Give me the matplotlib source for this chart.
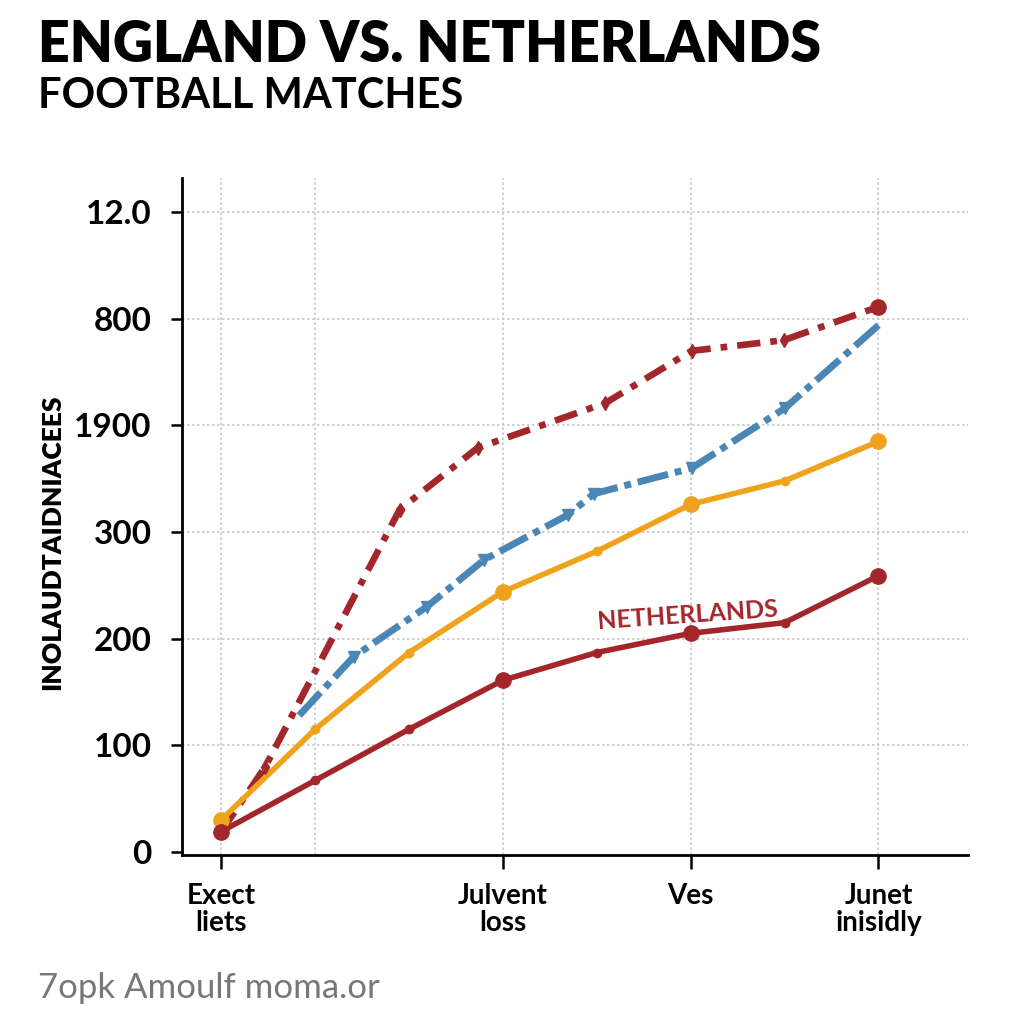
import matplotlib.pyplot as plt

plt.rcParams["font.family"] = ["Lato", "DejaVu Sans"]

# x positions of the points along the match axis
x_pos = [0, 1, 2, 3, 4, 5, 6, 7]
x_ticks = [0, 3, 5, 7]
x_labels = ["Exect\nliets", "Julvent\nloss", "Ves", "Junet\ninisidly"]
x_grid = [0, 1, 3, 5, 7]

y_ticks = [0, 1, 2, 3, 4, 5, 6]
y_labels = ["0", "100", "200", "300", "1900", "800", "12.0"]

netherlands = [0.19, 0.67, 1.15, 1.61, 1.87, 2.05, 2.15, 2.59]
orange_vals = [0.30, 1.15, 1.87, 2.44, 2.82, 3.26, 3.48, 3.85]

blue_x = [0.83, 1.41, 2.19, 2.80, 3.69, 3.97, 5.01, 6.0, 7.0]
blue_vals = [1.28, 1.83, 2.30, 2.74, 3.16, 3.36, 3.60, 4.16, 4.94]

red_x = [0, 0.47, 1.90, 2.73, 4.09, 5.01, 5.99, 6.99]
red_vals = [0.19, 0.80, 3.21, 3.79, 4.21, 4.70, 4.80, 5.11]

RED = "#a3262b"
ORANGE = "#efa31d"
BLUE = "#4b87b5"

fig = plt.figure(figsize=(10.24, 10.24), dpi=100)
ax = fig.add_axes([0.178, 0.165, 0.767, 0.661])

# grid
for gx in x_grid:
    ax.axvline(gx, color="#c8c8c8", lw=1.2, ls=(0, (1.5, 1.5)), zorder=0)
for gy in y_ticks[1:]:
    ax.axhline(gy, color="#c8c8c8", lw=1.2, ls=(0, (1.5, 1.5)), zorder=0)

# red dashed (top)
ax.plot(red_x, red_vals, color=RED, lw=4.8, dashes=(3.5, 1.5, 1, 1.5), zorder=3)
ax.plot(red_x[1:-1], red_vals[1:-1], "d", color=RED, ms=7, zorder=4)
ax.plot(red_x[-1:], red_vals[-1:], "o", color=RED, ms=11, zorder=4)

# blue dash-dot
ax.plot(blue_x, blue_vals, color=BLUE, lw=5, dashes=(4.5, 1, 1, 1), zorder=3)
ax.plot(blue_x[1:-1], blue_vals[1:-1], "v", color=BLUE, ms=8, zorder=4)

# orange solid
big = [0, 3, 5, 7]
small = [1, 2, 4, 6]
ax.plot(x_pos, orange_vals, color=ORANGE, lw=4, zorder=3)
ax.plot([x_pos[i] for i in big], [orange_vals[i] for i in big], "o",
        color=ORANGE, ms=11, zorder=4)
ax.plot([x_pos[i] for i in small], [orange_vals[i] for i in small], "o",
        color=ORANGE, ms=6, zorder=4)

# netherlands solid
ax.plot(x_pos, netherlands, color=RED, lw=4, zorder=3)
ax.plot([x_pos[i] for i in big], [netherlands[i] for i in big], "o",
        color=RED, ms=11, zorder=4)
ax.plot([x_pos[i] for i in small], [netherlands[i] for i in small], "o",
        color=RED, ms=6, zorder=4)

ax.text(4.97, 2.22, "NETHERLANDS", color=RED, fontsize=18, fontweight="bold",
        rotation=4, ha="center", va="center", zorder=5)

ax.set_xlim(-0.415, 7.95)
ax.set_ylim(-0.03, 6.32)
ax.set_xticks(x_ticks)
ax.set_xticklabels(x_labels, fontsize=20, fontweight="bold", linespacing=1.05)
ax.set_yticks(y_ticks)
ax.set_yticklabels(y_labels, fontsize=24, fontweight="bold")
ax.tick_params(axis="y", length=8, width=1.8, pad=14)
ax.tick_params(axis="x", length=10, width=1.8, pad=10)

for side in ["top", "right"]:
    ax.spines[side].set_visible(False)
for side in ["left", "bottom"]:
    ax.spines[side].set_linewidth(2)

fig.text(0.051, 0.47, "INOLAUDTAIDNIACEES", rotation=90, fontsize=19,
         fontweight="heavy", ha="center", va="center")

fig.text(0.037, 0.956, "ENGLAND VS. NETHERLANDS", fontsize=40,
         fontweight="heavy", ha="left", va="center")
fig.text(0.037, 0.906, "FOOTBALL MATCHES", fontsize=30,
         fontweight="bold", ha="left", va="center")
fig.text(0.037, 0.035, "7opk Amoulf moma.or", fontsize=25, color="#777777",
         ha="left", va="center")

fig.savefig("out.png", dpi=100, facecolor="white")
